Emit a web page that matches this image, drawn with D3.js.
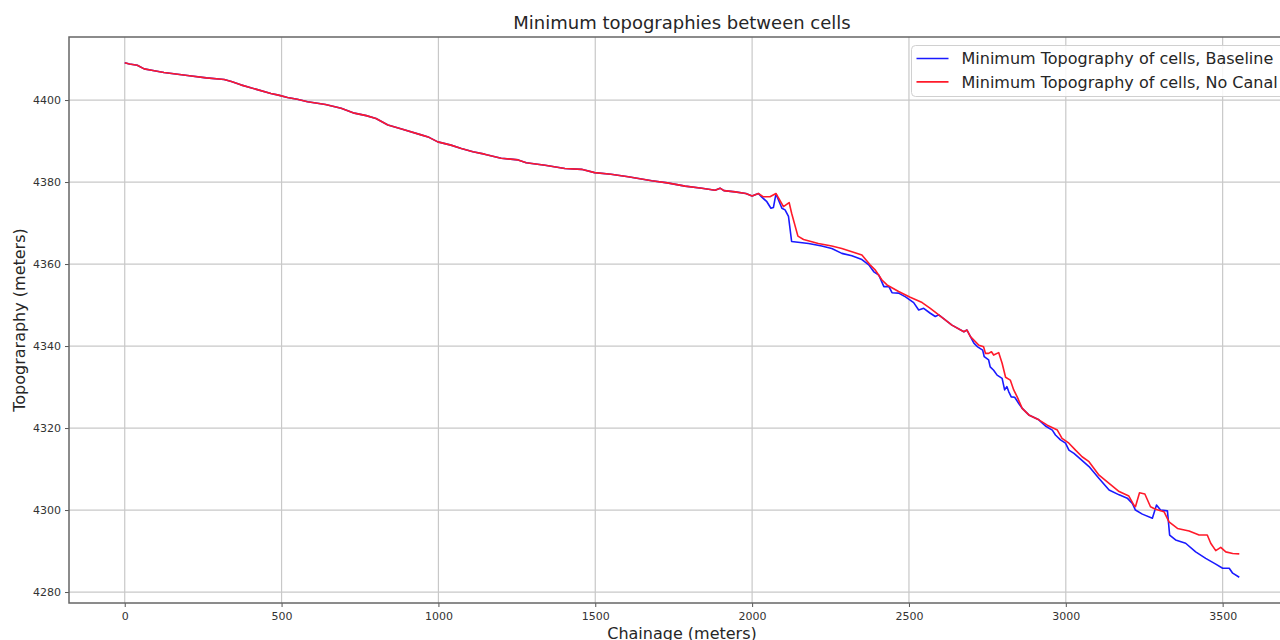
<!DOCTYPE html>
<html>
<head>
<meta charset="utf-8">
<script src="https://cdn.jsdelivr.net/npm/d3@7"></script>
<style>
  body { margin: 0; background: #fff; }
  svg { display: block; overflow: hidden; font-family: "DejaVu Sans", sans-serif; }
</style>
</head>
<body>
<div id="chart"></div>
<script>
// shared upstream part (both runs identical here)
var commonChainage = [0, 15, 40, 62, 90, 125, 200, 260, 317, 340, 370, 420, 466, 490, 519, 550, 583, 640, 690, 732, 770, 801, 839, 880, 945, 970, 998, 1040, 1073, 1110, 1147, 1200, 1254, 1280, 1340, 1403, 1456, 1498, 1550, 1605, 1680, 1730, 1786, 1840, 1882, 1898, 1910, 1946, 1980, 2000, 2020];
var commonTopo = [4409.1, 4408.8, 4408.5, 4407.6, 4407.2, 4406.7, 4406.0, 4405.4, 4405.0, 4404.5, 4403.7, 4402.6, 4401.6, 4401.2, 4400.6, 4400.2, 4399.6, 4398.9, 4398.0, 4396.8, 4396.2, 4395.5, 4393.9, 4393.0, 4391.5, 4390.9, 4389.8, 4389.0, 4388.2, 4387.4, 4386.8, 4385.8, 4385.4, 4384.7, 4384.1, 4383.3, 4383.1, 4382.3, 4381.9, 4381.3, 4380.3, 4379.8, 4379.0, 4378.5, 4378.0, 4378.5, 4377.9, 4377.6, 4377.2, 4376.6, 4377.2];

// No Canal run after the split
var noCanalChainage = [2036, 2057, 2076, 2100, 2118, 2126, 2146, 2164, 2211, 2254, 2286, 2318, 2350, 2376, 2393, 2414, 2430, 2467, 2504, 2542, 2568, 2595, 2637, 2675, 2685, 2696, 2723, 2738, 2744, 2754, 2763, 2770, 2786, 2797, 2808, 2823, 2834, 2845, 2861, 2882, 2914, 2941, 2973, 2988, 3010, 3031, 3052, 3074, 3106, 3138, 3170, 3201, 3217, 3222, 3235, 3252, 3270, 3286, 3313, 3329, 3356, 3393, 3425, 3451, 3462, 3478, 3494, 3510, 3532, 3553];
var noCanalTopo = [4376.4, 4376.4, 4377.2, 4374.0, 4375.0, 4372.4, 4366.8, 4366.0, 4365.0, 4364.4, 4363.8, 4363.0, 4362.2, 4359.8, 4358.5, 4356.1, 4354.9, 4353.3, 4351.9, 4350.6, 4349.2, 4347.6, 4345.1, 4343.5, 4343.9, 4342.3, 4340.2, 4339.8, 4338.2, 4338.2, 4338.6, 4337.8, 4338.4, 4335.8, 4332.4, 4331.7, 4329.3, 4327.6, 4324.8, 4323.2, 4322.0, 4320.7, 4319.5, 4317.5, 4316.3, 4314.6, 4313.0, 4311.8, 4308.5, 4306.5, 4304.5, 4303.4, 4301.2, 4300.8, 4304.2, 4303.9, 4300.8, 4300.2, 4299.6, 4297.1, 4295.5, 4294.9, 4293.9, 4293.9, 4291.9, 4290.1, 4290.9, 4289.8, 4289.4, 4289.3];

// Baseline run after the split
var baselineChainage = [2031, 2047, 2060, 2068, 2076, 2095, 2105, 2116, 2126, 2180, 2222, 2254, 2286, 2318, 2350, 2372, 2388, 2404, 2420, 2436, 2446, 2467, 2489, 2515, 2531, 2547, 2568, 2584, 2595, 2637, 2675, 2685, 2696, 2707, 2719, 2735, 2740, 2754, 2759, 2770, 2781, 2797, 2805, 2812, 2818, 2826, 2837, 2850, 2861, 2882, 2914, 2935, 2957, 2967, 2983, 2999, 3010, 3026, 3047, 3074, 3106, 3138, 3170, 3196, 3212, 3222, 3244, 3276, 3289, 3302, 3324, 3331, 3350, 3382, 3414, 3446, 3478, 3500, 3521, 3532, 3553];
var baselineTopo = [4376.3, 4375.2, 4373.6, 4373.8, 4377.1, 4373.6, 4373.2, 4371.6, 4365.5, 4365.0, 4364.4, 4363.8, 4362.6, 4362.0, 4361.1, 4359.8, 4358.1, 4357.3, 4354.5, 4354.5, 4353.0, 4352.9, 4352.0, 4350.6, 4348.8, 4349.2, 4348.0, 4347.2, 4347.6, 4345.1, 4343.5, 4343.9, 4342.3, 4340.7, 4339.8, 4339.0, 4337.4, 4336.6, 4334.9, 4334.1, 4332.9, 4332.1, 4329.3, 4330.1, 4328.9, 4327.6, 4327.5, 4326.0, 4324.8, 4323.2, 4322.0, 4320.5, 4319.5, 4318.3, 4317.1, 4316.3, 4314.6, 4313.8, 4312.4, 4310.6, 4307.7, 4304.9, 4303.7, 4302.9, 4301.6, 4300.0, 4299.0, 4298.0, 4301.2, 4300.0, 4299.8, 4293.9, 4292.7, 4291.9, 4289.8, 4288.2, 4286.8, 4285.8, 4285.8, 4284.6, 4283.6];

var xTicks = [0, 500, 1000, 1500, 2000, 2500, 3000, 3500];
var yTicks = [4280, 4300, 4320, 4340, 4360, 4380, 4400];
var seriesNames = ["Minimum Topography of cells, Baseline", "Minimum Topography of cells, No Canal"];
var seriesColors = ["#1a1aff", "#ff1a2a"];

// svg size and plot box
var svgWidth = 1280;
var svgHeight = 640;
var margin = { top: 37, right: -15, bottom: 37, left: 69 };
var width = svgWidth - margin.left - margin.right;
var height = svgHeight - margin.top - margin.bottom;

var svg = d3.select("#chart").append("svg")
    .attr("width", svgWidth)
    .attr("height", svgHeight);

var chartGroup = svg.append("g")
    .attr("transform", `translate(${margin.left}, ${margin.top})`);

// build point lists
function toPoints(xs, ys) {
  return xs.map((x, i) => ({ x: x, y: ys[i] }));
}
var common = toPoints(commonChainage, commonTopo);
var baseline = common.concat(toPoints(baselineChainage, baselineTopo));
var noCanal = common.concat(toPoints(noCanalChainage, noCanalTopo));
var allPts = baseline.concat(noCanal);

// matplotlib-like 5% padding
var xExt = d3.extent(allPts, d => d.x);
var yExt = d3.extent(allPts, d => d.y);
var xPad = (xExt[1] - xExt[0]) * 0.05;
var yPad = (yExt[1] - yExt[0]) * 0.05;

var xScale = d3.scaleLinear()
    .domain([xExt[0] - xPad, xExt[1] + xPad])
    .range([0, width]);

var yScale = d3.scaleLinear()
    .domain([yExt[0] - yPad, yExt[1] + yPad])
    .range([height, 0]);

// grid
chartGroup.append("g").selectAll("line.vgrid")
    .data(xTicks).enter().append("line")
    .attr("x1", d => xScale(d)).attr("x2", d => xScale(d))
    .attr("y1", 0).attr("y2", height)
    .attr("stroke", "#c8c8c8").attr("stroke-width", 1.2);

chartGroup.append("g").selectAll("line.hgrid")
    .data(yTicks).enter().append("line")
    .attr("x1", 0).attr("x2", width)
    .attr("y1", d => yScale(d)).attr("y2", d => yScale(d))
    .attr("stroke", "#c8c8c8").attr("stroke-width", 1.2);

// axes
var bottomAxis = d3.axisBottom(xScale).tickValues(xTicks).tickSize(4).tickPadding(5).tickFormat(d3.format("d"));
var leftAxis = d3.axisLeft(yScale).tickValues(yTicks).tickSize(4).tickPadding(4).tickFormat(d3.format("d"));

var xAxisG = chartGroup.append("g")
    .attr("transform", `translate(0, ${height})`)
    .call(bottomAxis);
var yAxisG = chartGroup.append("g")
    .call(leftAxis);

[xAxisG, yAxisG].forEach(function(g) {
  g.select(".domain").remove();
  g.selectAll("line").attr("stroke", "#555");
  g.selectAll("text")
      .style("font-size", "11px")
      .style("font-family", "DejaVu Sans, sans-serif")
      .attr("fill", "#333");
});

// frame
chartGroup.append("rect")
    .attr("width", width)
    .attr("height", height)
    .attr("fill", "none")
    .attr("stroke", "#666")
    .attr("stroke-width", 1.5);

// lines
var line = d3.line()
    .x(d => xScale(d.x))
    .y(d => yScale(d.y));

[baseline, noCanal].forEach(function(pts, i) {
  chartGroup.append("path")
      .datum(pts)
      .attr("fill", "none")
      .attr("stroke", seriesColors[i])
      .attr("stroke-width", 1.6)
      .attr("stroke-linejoin", "round")
      .attr("d", line);
});

// legend
var legend = svg.append("g").attr("transform", "translate(911.5, 45.5)");
legend.append("rect")
    .attr("width", 400).attr("height", 51)
    .attr("rx", 4)
    .attr("fill", "#fff").attr("fill-opacity", 0.85)
    .attr("stroke", "#d0d0d0");
seriesNames.forEach(function(name, i) {
  var yy = 13 + i * 23.4;
  legend.append("line")
      .attr("x1", 5).attr("x2", 37)
      .attr("y1", yy).attr("y2", yy)
      .attr("stroke", seriesColors[i])
      .attr("stroke-width", 1.6);
  legend.append("text")
      .attr("x", 50).attr("y", yy)
      .attr("dy", "0.35em")
      .style("font-size", "16px")
      .attr("fill", "#262626")
      .text(name);
});

// title
svg.append("text")
    .attr("x", margin.left + width / 2)
    .attr("y", 29)
    .attr("text-anchor", "middle")
    .style("font-size", "18px")
    .attr("fill", "#262626")
    .text("Minimum topographies between cells");

// y label
svg.append("text")
    .attr("transform", "rotate(-90)")
    .attr("x", -(margin.top + height / 2))
    .attr("y", 25)
    .attr("text-anchor", "middle")
    .style("font-size", "16px")
    .attr("fill", "#262626")
    .text("Topograraphy (meters)");

// x label
svg.append("text")
    .attr("x", margin.left + width / 2)
    .attr("y", 639)
    .attr("text-anchor", "middle")
    .style("font-size", "16px")
    .attr("fill", "#262626")
    .text("Chainage (meters)");
</script>
</body>
</html>
